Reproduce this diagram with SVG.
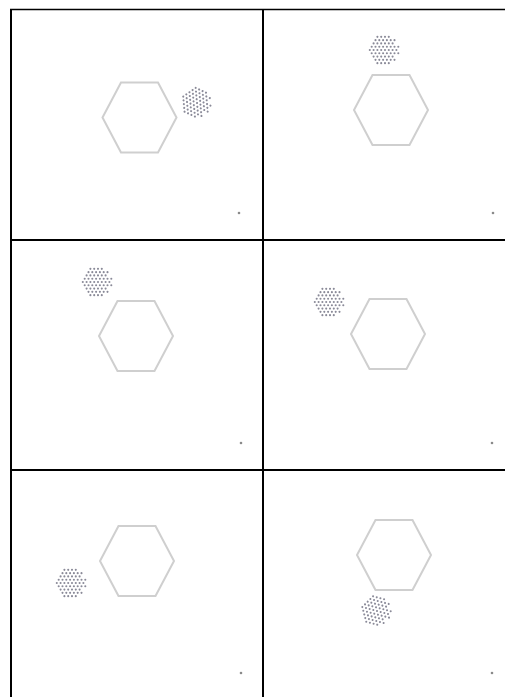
<svg xmlns="http://www.w3.org/2000/svg" xmlns:xlink="http://www.w3.org/1999/xlink" width="505" height="697" viewBox="0 0 505 697">
<style>
.grid{stroke:#000;fill:none}
.hex{fill:none;stroke:#cfcfcf;stroke-width:2}
.dots{stroke:#8a8a98;stroke-width:2.1;stroke-linecap:round;stroke-dasharray:0 3.8;fill:none}
.mark{fill:#8a8a8a}
</style>
<defs>
<polygon id="hexShape" class="hex" points="-18.5,-35 18.5,-35 37,0 18.5,35 -18.5,35 -37,0"/>
<g id="cluster">
<line class="dots" x1="-7.6" y1="-13.16" x2="7.6" y2="-13.16"/>
<line class="dots" x1="-9.5" y1="-9.87" x2="9.5" y2="-9.87"/>
<line class="dots" x1="-11.4" y1="-6.58" x2="11.4" y2="-6.58"/>
<line class="dots" x1="-13.3" y1="-3.29" x2="13.3" y2="-3.29"/>
<line class="dots" x1="-15.2" y1="0" x2="15.2" y2="0"/>
<line class="dots" x1="-13.3" y1="3.29" x2="13.3" y2="3.29"/>
<line class="dots" x1="-11.4" y1="6.58" x2="11.4" y2="6.58"/>
<line class="dots" x1="-9.5" y1="9.87" x2="9.5" y2="9.87"/>
<line class="dots" x1="-7.6" y1="13.16" x2="7.6" y2="13.16"/>
</g>
</defs>
<rect width="505" height="697" fill="#fff"/>
<g id="connectors">
<line class="grid" x1="10" y1="9.5" x2="505" y2="9.5" stroke-width="1.5"/>
<line class="grid" x1="11" y1="9" x2="11" y2="697" stroke-width="2"/>
<line class="grid" x1="263" y1="9" x2="263" y2="697" stroke-width="2"/>
<line class="grid" x1="10" y1="240" x2="505" y2="240" stroke-width="1.8"/>
<line class="grid" x1="10" y1="470" x2="505" y2="470" stroke-width="1.8"/>
</g>
<g id="panel1">
<use xlink:href="#hexShape" transform="translate(139.5,117.5)"/>
<use xlink:href="#cluster" transform="translate(197,103) rotate(25)"/>
<circle class="mark" cx="239" cy="213" r="1.3"/>
</g>
<g id="panel2">
<use xlink:href="#hexShape" transform="translate(391,110)"/>
<use xlink:href="#cluster" transform="translate(385,50)"/>
<circle class="mark" cx="493" cy="213" r="1.3"/>
</g>
<g id="panel3">
<use xlink:href="#hexShape" transform="translate(136,336)"/>
<use xlink:href="#cluster" transform="translate(98,282)"/>
<circle class="mark" cx="241" cy="443" r="1.3"/>
</g>
<g id="panel4">
<use xlink:href="#hexShape" transform="translate(388,334)"/>
<use xlink:href="#cluster" transform="translate(330,302)"/>
<circle class="mark" cx="492" cy="443" r="1.3"/>
</g>
<g id="panel5">
<use xlink:href="#hexShape" transform="translate(137,561)"/>
<use xlink:href="#cluster" transform="translate(72,583)"/>
<circle class="mark" cx="241" cy="673" r="1.3"/>
</g>
<g id="panel6">
<use xlink:href="#hexShape" transform="translate(394,555)"/>
<use xlink:href="#cluster" transform="translate(377,611) rotate(15)"/>
<circle class="mark" cx="492" cy="673" r="1.3"/>
</g>
</svg>
